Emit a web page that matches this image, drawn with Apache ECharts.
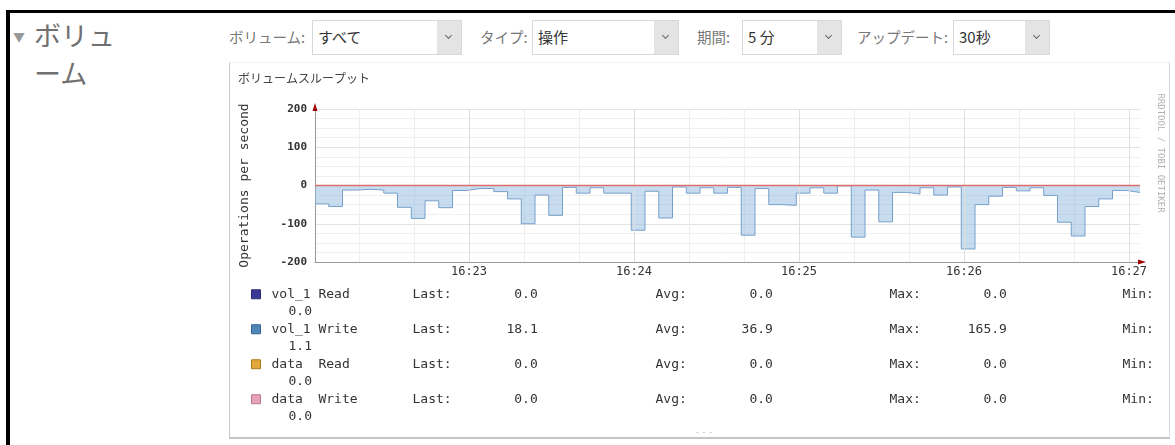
<!DOCTYPE html>
<html>
<head>
<meta charset="utf-8">
<title>ボリューム</title>
<script src="https://cdn.jsdelivr.net/npm/echarts@6/dist/echarts.min.js"></script>
<style>
  body { margin: 0; width: 1175px; height: 445px; overflow: hidden; background: #fff; position: relative;
         font-family: 'Noto Sans CJK JP', sans-serif; }
  .frameTop { position: absolute; left: 6px; top: 10px; width: 1169px; height: 3px; background: #000; }
  .frameLeft { position: absolute; left: 6px; top: 10px; width: 4px; height: 435px; background: #000; }
  .heading { position: absolute; left: 34px; top: 16px; font-size: 27px; line-height: 38px; color: #707070; }
  .heading .tri { position: absolute; left: -21px; top: 2px; font-size: 12px; color: #999; }
  .lbl { position: absolute; top: 27px; font-size: 14.5px; line-height: 20px; color: #777; }
  .sel { position: absolute; top: 20px; height: 35px; border: 1px solid #d8d8d8; background: #fff; box-sizing: border-box;
         font-size: 15px; color: #333; line-height: 32px; padding-left: 5px; }
  .sel .btn { position: absolute; right: 0; top: 0; width: 24px; height: 33px; background: #e4e4e4; }
  .sel .btn::after { content: ''; position: absolute; left: 9px; top: 12px; width: 4px; height: 4px;
         border-right: 1.5px solid #666; border-bottom: 1.5px solid #666; transform: rotate(45deg); }
  .panel { position: absolute; left: 229px; top: 62px; width: 941px; height: 377px; box-sizing: border-box;
           border-left: 1px solid #c8c8c8; border-right: 1px solid #ddd; border-top: 1px solid #f2f2f2;
           border-bottom: 2px solid #c4c4c4; }
  .more { position: absolute; left: 696px; top: 426px; font-size: 8px; color: #aaa; letter-spacing: 1px; }
  #chart { position: absolute; left: 0; top: 0; width: 1175px; height: 445px; }
</style>
</head>
<body>
<div class="frameTop"></div>
<div class="frameLeft"></div>
<div class="heading"><span class="tri">▼</span>ボリュ<br>ーム</div>

<div class="lbl" style="left:229px">ボリューム:</div>
<div class="sel" style="left:312px;width:150px">すべて<div class="btn"></div></div>
<div class="lbl" style="left:480px">タイプ:</div>
<div class="sel" style="left:532px;width:147px">操作<div class="btn"></div></div>
<div class="lbl" style="left:697px">期間:</div>
<div class="sel" style="left:742px;width:100px">5 分<div class="btn"></div></div>
<div class="lbl" style="left:857px">アップデート:</div>
<div class="sel" style="left:953px;width:97px">30秒<div class="btn"></div></div>

<div class="panel"></div>
<div class="more">- - -</div>
<div id="chart"></div>

<script>
// seconds after 16:22:00, one step every 5 s (last entry closes the final step)
var stepTimes = [4, 9, 14, 19, 24, 29, 34, 39, 44, 49, 54, 59, 64, 69, 74, 79, 84, 89, 94, 99,
  104, 109, 114, 119, 124, 129, 134, 139, 144, 149, 154, 159, 164, 169, 174, 179, 184, 189, 194, 199,
  204, 209, 214, 219, 224, 229, 234, 239, 244, 249, 254, 259, 264, 269, 274, 279, 284, 289, 294, 299, 304]

// write ops/s for vol_1 (drawn below zero)
var volWriteOps = [48, 55, 12, 10, 12, 20, 57, 86, 40, 58, 13, 8, 8, 16, 35, 100, 25, 78, 5, 20,
  6, 20, 20, 117, 15, 85, 4, 20, 6, 20, 5, 130, 8, 50, 52, 20, 6, 20, 1.1, 135,
  12, 95, 18, 22, 6, 25, 4, 165.9, 50, 28, 5, 14, 6, 26, 96, 132, 55, 35, 13, 18.1]
var volReadOps = [0, 0, 0, 0, 0, 0, 0, 0, 0, 0, 0, 0, 0, 0, 0, 0, 0, 0, 0, 0,
  0, 0, 0, 0, 0, 0, 0, 0, 0, 0, 0, 0, 0, 0, 0, 0, 0, 0, 0, 0,
  0, 0, 0, 0, 0, 0, 0, 0, 0, 0, 0, 0, 0, 0, 0, 0, 0, 0, 0, 0]
var dataReadOps = [0, 0, 0, 0, 0, 0, 0, 0, 0, 0, 0, 0, 0, 0, 0, 0, 0, 0, 0, 0,
  0, 0, 0, 0, 0, 0, 0, 0, 0, 0, 0, 0, 0, 0, 0, 0, 0, 0, 0, 0,
  0, 0, 0, 0, 0, 0, 0, 0, 0, 0, 0, 0, 0, 0, 0, 0, 0, 0, 0, 0]
var dataWriteOps = [0, 0, 0, 0, 0, 0, 0, 0, 0, 0, 0, 0, 0, 0, 0, 0, 0, 0, 0, 0,
  0, 0, 0, 0, 0, 0, 0, 0, 0, 0, 0, 0, 0, 0, 0, 0, 0, 0, 0, 0,
  0, 0, 0, 0, 0, 0, 0, 0, 0, 0, 0, 0, 0, 0, 0, 0, 0, 0, 0, 0]

var tickTimes = [60, 120, 180, 240, 300]
var tickLabels = ['16:23', '16:24', '16:25', '16:26', '16:27']
var gridTimes = [20, 40, 60, 80, 100, 120, 140, 160, 180, 200, 220, 240, 260, 280, 300]

var seriesNames = ['vol_1 Read', 'vol_1 Write', 'data  Read', 'data  Write']
var lastVals = [0.0, 18.1, 0.0, 0.0]
var avgVals = [0.0, 36.9, 0.0, 0.0]
var maxVals = [0.0, 165.9, 0.0, 0.0]
var minVals = [0.0, 1.1, 0.0, 0.0]

var legendColors = ['#3b3b96', '#4f86b8', '#e0a83a', '#e8a3bb']
var legendBorders = ['#2a2a70', '#36658f', '#a87a20', '#b87790']

var mono = 'DejaVu Sans Mono'

// step points, last value repeated to close the final step
function toPoints(vals, sign) {
  var pts = []
  for (var i = 0; i < vals.length; i++) {
    pts.push([stepTimes[i], sign * vals[i]])
  }
  pts.push([stepTimes[vals.length], sign * vals[vals.length - 1]])
  return pts
}

function rs(extra) {
  var base = { fontFamily: mono, fontSize: 13, color: '#333', lineHeight: 17.5 }
  for (var k in extra) base[k] = extra[k]
  return base
}

function pad(v, n) {
  var s = v.toFixed(1)
  while (s.length < n) s = ' ' + s
  return s
}

var chart = echarts.init(document.getElementById('chart'))
chart.setOption({
  animation: false,
  title: {
    text: 'ボリュームスループット',
    left: 233,
    top: 67,
    textStyle: { fontFamily: 'Noto Sans CJK JP', fontSize: 12, fontWeight: 'normal', color: '#444' }
  },
  grid: { left: 315, top: 109, width: 825, height: 153 },
  xAxis: {
    type: 'value',
    min: 4,
    max: 304,
    axisLine: { onZero: false, lineStyle: { color: '#999' } },
    axisTick: { show: false, customValues: gridTimes },
    axisLabel: {
      customValues: tickTimes,
      formatter: function (v) { return tickLabels[tickTimes.indexOf(v)] },
      color: '#333',
      fontFamily: mono,
      fontSize: 12,
      margin: 4
    },
    splitLine: { show: true, lineStyle: { color: '#eeeeee' } }
  },
  yAxis: {
    type: 'value',
    min: -200,
    max: 200,
    interval: 100,
    name: 'Operations per second',
    nameLocation: 'middle',
    nameGap: 64,
    nameTextStyle: { fontFamily: mono, fontSize: 13, color: '#333' },
    axisLine: { show: true, lineStyle: { color: '#999' } },
    axisTick: { show: false },
    axisLabel: { color: '#333', fontFamily: mono, fontSize: 11, fontWeight: 'bold', margin: 8 },
    splitLine: { lineStyle: { color: '#e4e4e4' } },
    minorTick: { show: false, splitNumber: 4 },
    minorSplitLine: { show: true, lineStyle: { color: '#f0f0f0' } }
  },
  legend: {
    orient: 'vertical',
    left: 251,
    top: 268,
    padding: 0,
    itemWidth: 9,
    itemHeight: 9,
    itemGap: -17.5,
    selectedMode: false,
    data: seriesNames.map(function (n, i) {
      return { name: n, icon: 'rect', itemStyle: { color: legendColors[i], borderColor: legendBorders[i], borderWidth: 1 } }
    }),
    formatter: function (name) {
      var i = seriesNames.indexOf(name)
      return '{n|' + name + '}' +
        '{c1|Last:' + pad(lastVals[i], 11) + '}' +
        '{c2|Avg:' + pad(avgVals[i], 11) + '}' +
        '{c3|Max:' + pad(maxVals[i], 11) + '}' +
        '{c4|Min:}\n' +
        '{ind| }{n|' + minVals[i].toFixed(1) + '}'
    },
    textStyle: {
      fontFamily: mono,
      fontSize: 13,
      color: '#333',
      lineHeight: 17.5,
      padding: [17.5, 0, 0, 6],
      rich: {
        n: rs({ width: 141 }),
        c1: rs({ width: 243 }),
        c2: rs({ width: 234 }),
        c3: rs({ width: 233 }),
        c4: rs({ width: 40 }),
        ind: rs({ width: 17 })
      }
    }
  },
  graphic: [{
    type: 'text',
    x: 1160,
    y: 153,
    rotation: -Math.PI / 2,
    style: { text: 'RRDTOOL / TOBI OETIKER', fill: '#b0b0b0', font: '9px DejaVu Sans Mono', align: 'center', verticalAlign: 'middle' }
  }],
  series: [
    {
      name: 'vol_1 Read',
      type: 'line',
      step: 'end',
      symbol: 'none',
      data: toPoints(volReadOps, 1),
      lineStyle: { color: '#3b3b96', width: 1 },
      itemStyle: { color: '#3b3b96' },
      markLine: {
        silent: true,
        symbol: 'none',
        label: { show: false },
        lineStyle: { color: '#dedede', width: 1, type: 'solid' },
        data: tickTimes.map(function (t) { return { xAxis: t } })
      },
      markPoint: {
        silent: true,
        label: { show: false },
        itemStyle: { color: '#a30000' },
        data: [
          { coord: [4, 200], symbol: 'triangle', symbolSize: [5, 8], symbolOffset: [0, -2] },
          { coord: [304, -200], symbol: 'triangle', symbolSize: [5, 8], symbolRotate: -90, symbolOffset: [2, 0] }
        ]
      }
    },
    {
      name: 'vol_1 Write',
      type: 'line',
      step: 'end',
      symbol: 'none',
      data: toPoints(volWriteOps, -1),
      lineStyle: { color: '#76a0ca', width: 1 },
      itemStyle: { color: '#4f86b8' },
      areaStyle: { color: 'rgba(140,182,224,0.68)' }
    },
    {
      name: 'data  Read',
      type: 'line',
      step: 'end',
      symbol: 'none',
      data: toPoints(dataReadOps, 1),
      lineStyle: { color: '#e0a83a', width: 1 },
      itemStyle: { color: '#e0a83a' }
    },
    {
      name: 'data  Write',
      type: 'line',
      step: 'end',
      symbol: 'none',
      z: 5,
      data: toPoints(dataWriteOps, -1),
      lineStyle: { color: '#dc6e6e', width: 1.3 },
      itemStyle: { color: '#e8a3bb' }
    }
  ]
})
</script>
</body>
</html>
